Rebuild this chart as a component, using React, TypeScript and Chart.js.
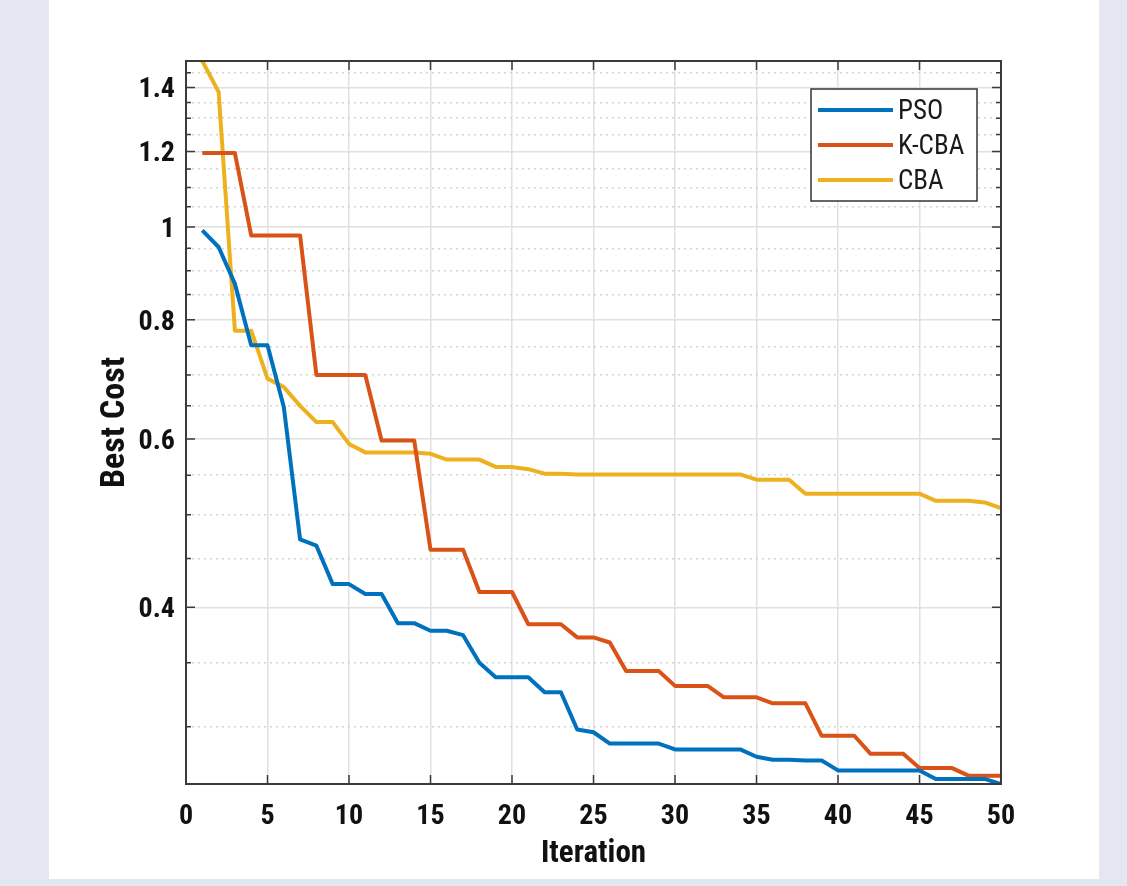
import React, { useEffect, useRef } from "react";
import { Chart, registerables } from "chart.js";

Chart.register(...registerables);

// ---------- data ----------
const iterations = [
  1, 2, 3, 4, 5, 6, 7, 8, 9, 10, 11, 12, 13, 14, 15, 16, 17, 18, 19, 20, 21, 22, 23, 24, 25,
  26, 27, 28, 29, 30, 31, 32, 33, 34, 35, 36, 37, 38, 39, 40, 41, 42, 43, 44, 45, 46, 47, 48, 49, 50,
];

const psoCost = [
  0.992, 0.953, 0.872, 0.752, 0.752, 0.648, 0.471, 0.464, 0.423, 0.423,
  0.413, 0.413, 0.385, 0.385, 0.378, 0.378, 0.374, 0.35, 0.338, 0.338,
  0.338, 0.326, 0.326, 0.298, 0.296, 0.288, 0.288, 0.288, 0.288, 0.284,
  0.284, 0.284, 0.284, 0.284, 0.279, 0.277, 0.277, 0.2765, 0.2765, 0.27,
  0.27, 0.27, 0.27, 0.27, 0.27, 0.2645, 0.2645, 0.2645, 0.2645, 0.2613,
];

const kcbaCost = [
  1.195, 1.195, 1.195, 0.98, 0.98, 0.98, 0.98, 0.7, 0.7, 0.7,
  0.7, 0.598, 0.598, 0.598, 0.4595, 0.4595, 0.4595, 0.415, 0.415, 0.415,
  0.384, 0.384, 0.384, 0.372, 0.372, 0.3675, 0.343, 0.343, 0.343, 0.331,
  0.331, 0.331, 0.322, 0.322, 0.322, 0.3174, 0.3174, 0.3174, 0.2935, 0.2935,
  0.2935, 0.281, 0.281, 0.281, 0.2715, 0.2715, 0.2715, 0.2666, 0.2666, 0.2666,
];

const cbaCost = [
  1.492, 1.385, 0.779, 0.779, 0.694, 0.68, 0.65, 0.625, 0.625, 0.593,
  0.581, 0.581, 0.581, 0.581, 0.579, 0.571, 0.571, 0.571, 0.561, 0.561,
  0.558, 0.552, 0.552, 0.551, 0.551, 0.551, 0.551, 0.551, 0.551, 0.551,
  0.551, 0.551, 0.551, 0.551, 0.544, 0.544, 0.544, 0.526, 0.526, 0.526,
  0.526, 0.526, 0.526, 0.526, 0.526, 0.517, 0.517, 0.517, 0.515, 0.508,
];

const seriesNames = ["PSO", "K-CBA", "CBA"];
const seriesColors = ["#0072BD", "#D95319", "#EDB120"];

const xTicks = [0, 5, 10, 15, 20, 25, 30, 35, 40, 45, 50];
const yMajorTicks = [0.4, 0.6, 0.8, 1, 1.2, 1.4];
const yMinorTicks = [
  0.3, 0.35, 0.45, 0.5, 0.55, 0.65, 0.7, 0.75, 0.85, 0.9, 0.95,
  1.05, 1.1, 1.15, 1.25, 1.3, 1.35, 1.45,
];

const xTitle = "Iteration";
const yTitle = "Best Cost";

// ---------- styling ----------
const FAMILY = 'Roboto, "Open Sans", "DejaVu Sans Condensed", sans-serif';
const BOLD_NARROW = "bold condensed";
const FRAME = "#3a3a3a";
const GRID_MAJOR = "rgb(224,224,224)";
const GRID_MINOR = "rgb(212,212,212)";

const frameAndLegend = {
  id: "frameAndLegend",
  afterDatasetsDraw(chart: any) {
    const { ctx, chartArea, scales } = chart;
    const { left, right, top, bottom } = chartArea;
    ctx.save();
    ctx.strokeStyle = FRAME;
    ctx.lineWidth = 1.5;
    // inner y ticks (left and right)
    scales.y.ticks.forEach((t: any) => {
      const py = scales.y.getPixelForValue(t.value);
      const len = yMajorTicks.includes(t.value) ? 9 : 5;
      ctx.beginPath();
      ctx.moveTo(left, py);
      ctx.lineTo(left + len, py);
      ctx.moveTo(right, py);
      ctx.lineTo(right - len, py);
      ctx.stroke();
    });
    // inner x ticks (bottom and top)
    scales.x.ticks.forEach((t: any) => {
      const px = scales.x.getPixelForValue(t.value);
      ctx.beginPath();
      ctx.moveTo(px, bottom);
      ctx.lineTo(px, bottom - 9);
      ctx.moveTo(px, top);
      ctx.lineTo(px, top + 9);
      ctx.stroke();
    });
    // axes box
    ctx.lineWidth = 2;
    ctx.strokeRect(left, top, right - left, bottom - top);

    // legend
    const boxW = 166;
    const boxH = 112;
    const bx = right - 24 - boxW;
    const by = top + 28;
    ctx.fillStyle = "#ffffff";
    ctx.fillRect(bx, by, boxW, boxH);
    ctx.lineWidth = 1.5;
    ctx.strokeStyle = "#333333";
    ctx.strokeRect(bx, by, boxW, boxH);
    ctx.font = `condensed 27px ${FAMILY}`;
    ctx.textBaseline = "middle";
    ctx.textAlign = "left";
    chart.data.datasets.forEach((ds: any, i: number) => {
      const ly = by + 21 + i * 35;
      ctx.strokeStyle = ds.borderColor;
      ctx.lineWidth = 4;
      ctx.beginPath();
      ctx.moveTo(bx + 7, ly);
      ctx.lineTo(bx + 82, ly);
      ctx.stroke();
      ctx.fillStyle = "#1a1a1a";
      ctx.fillText(ds.label, bx + 87, ly + 2);
    });
    ctx.restore();
  },
};

export default function App() {
  const canvasRef = useRef<HTMLCanvasElement | null>(null);

  useEffect(() => {
    const canvas = canvasRef.current;
    if (!canvas) return;
    const allValues = [...psoCost, ...kcbaCost, ...cbaCost];
    const yMin = Math.min(...allValues);
    const yMax = Math.max(...allValues);
    const series = [psoCost, kcbaCost, cbaCost];

    const chart = new Chart(canvas, {
      type: "line",
      data: {
        datasets: series.map((vals, i) => ({
          label: seriesNames[i],
          data: iterations.map((it, k) => ({ x: it, y: vals[k] })),
          borderColor: seriesColors[i],
          backgroundColor: seriesColors[i],
          borderWidth: 4,
          pointRadius: 0,
          tension: 0,
          fill: false,
          borderJoinStyle: "round" as const,
        })),
      },
      options: {
        responsive: false,
        animation: false,
        devicePixelRatio: 1,
        layout: { padding: { left: 0, top: 61, right: 126, bottom: 0 } },
        plugins: {
          legend: { display: false },
          tooltip: { enabled: false },
        },
        scales: {
          x: {
            type: "linear",
            min: 0,
            max: 50,
            afterBuildTicks: (scale: any) => {
              scale.ticks = xTicks.map((v) => ({ value: v }));
            },
            afterFit: (scale: any) => {
              scale.height = 102;
            },
            grid: {
              drawTicks: false,
              lineWidth: 1.5,
              color: (ctx: any) =>
                ctx.tick && (ctx.tick.value === 0 || ctx.tick.value === 50)
                  ? "rgba(0,0,0,0)"
                  : GRID_MAJOR,
            },
            border: { display: false },
            ticks: {
              autoSkip: false,
              maxRotation: 0,
              padding: 16,
              color: "#111111",
              font: { family: FAMILY, size: 28, weight: BOLD_NARROW },
              callback: (v: any) => String(v),
            },
            title: {
              display: true,
              text: xTitle,
              color: "#111111",
              font: { family: FAMILY, size: 31, weight: BOLD_NARROW },
              padding: { top: 0, bottom: 13 },
            },
          },
          y: {
            type: "logarithmic",
            min: yMin,
            max: yMax,
            afterBuildTicks: (scale: any) => {
              const vals = [...yMajorTicks, ...yMinorTicks].sort((a, b) => a - b);
              scale.ticks = vals.map((v) => ({ value: v }));
            },
            afterFit: (scale: any) => {
              scale.width = 186;
            },
            grid: {
              drawTicks: false,
              lineWidth: 1.5,
              color: (ctx: any) =>
                ctx.tick && yMajorTicks.includes(ctx.tick.value) ? GRID_MAJOR : GRID_MINOR,
            },
            border: {
              display: false,
              dash: (ctx: any) =>
                ctx.tick && !yMajorTicks.includes(ctx.tick.value) ? [2, 4] : [],
            },
            ticks: {
              autoSkip: false,
              padding: 11,
              labelOffset: 3,
              color: "#111111",
              font: { family: FAMILY, size: 28, weight: BOLD_NARROW },
              callback: (v: any) => (yMajorTicks.includes(Number(v)) ? String(v) : ""),
            },
            title: {
              display: true,
              text: yTitle,
              color: "#111111",
              font: { family: FAMILY, size: 34, weight: BOLD_NARROW },
              padding: { top: 95, bottom: 0 },
            },
          },
        },
      },
      plugins: [frameAndLegend],
    } as any);

    return () => chart.destroy();
  }, []);

  return (
    <div
      style={{
        position: "fixed",
        left: 0,
        top: 0,
        width: 1127,
        height: 886,
        background: "#E4E7F1",
        overflow: "hidden",
      }}
    >
      <div
        style={{
          position: "absolute",
          left: 49,
          top: 0,
          width: 1050,
          height: 879,
          background: "#ffffff",
        }}
      />
      <canvas
        ref={canvasRef}
        width={1127}
        height={886}
        style={{ position: "absolute", left: 0, top: 0, width: 1127, height: 886 }}
      />
    </div>
  );
}
